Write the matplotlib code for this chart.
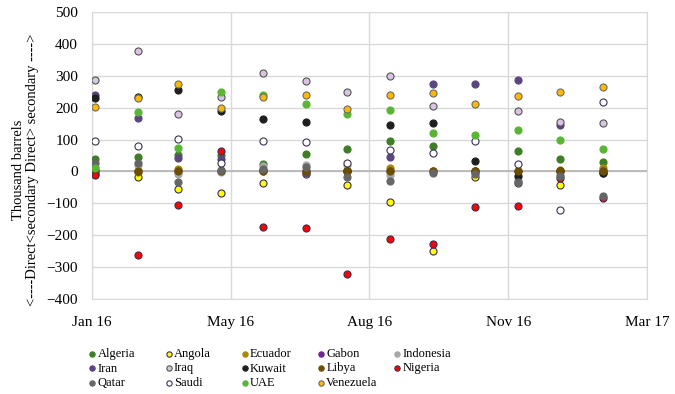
import matplotlib
matplotlib.use('Agg')
import matplotlib.pyplot as plt
import pandas as pd
import datetime as dt

plt.rcParams['font.family'] = ['Liberation Serif', 'DejaVu Serif']

# monthly points, Jan 2016 - Jan 2017
months = pd.date_range('2016-01-01', periods=13, freq='MS')

algeria   = [40, 46, 53, 51, 24, 56, 70, 94, 80, 2, 63, 38, 29]
angola    = [-8, -18, -54, -67, -37, -7, -41, -97, -248, -16, -36, -44, -4]
ecuador   = [5, -2, 9, 2, 5, -5, 6, 10, 1, 1, 1, 5, 10]
gabon     = [2, 0, 0, 0, 0, 0, 0, 0, 0, 0, 0, 0, 0]
indonesia = [15, 20, -7, -2, 16, 21, 19, -10, 0, -5, -28, -10, 0]
iran      = [241, 167, 43, 40, 5, -5, 0, 44, 274, 274, 287, 145, 0]
iraq      = [287, 377, 179, 235, 310, 283, 250, 300, 206, 0, 190, 156, 153]
kuwait    = [231, 232, 256, 188, 164, 156, 0, 146, 153, 33, -15, 0, -4]
libya     = [0, 0, 0, 0, 0, 0, 0, 0, 0, 0, 0, 0, 0]
nigeria   = [-10, -261, -104, 63, -173, -178, -321, -211, -227, -111, -108, -20, -83]
qatar     = [26, 26, -34, 6, 9, 14, -16, -31, -5, -9, -33, -13, -78]
saudi     = [94, 79, 103, 26, 97, 91, 26, 66, 59, 96, 23, -120, 217]
uae       = [12, 187, 73, 249, 241, 213, 179, 193, 120, 114, 130, 99, 70]
venezuela = [203, 230, 274, 200, 233, 240, 196, 240, 246, 213, 237, 250, 264]

tick_labels = ['Jan 16', 'May 16', 'Aug 16', 'Nov 16', 'Mar 17']

# name, values, face, edge
series = [
    ('Algeria', algeria, '#3e7e27', '#3e7e27'),
    ('Angola', angola, '#ffff00', '#3b2f55'),
    ('Ecuador', ecuador, '#a88a00', '#a88a00'),
    ('Gabon', gabon, '#70209a', '#70209a'),
    ('Indonesia', indonesia, '#a6a6a6', '#a6a6a6'),
    ('Iran', iran, '#5b4680', '#5b4680'),
    ('Iraq', iraq, '#dcc2e8', '#4d5a44'),
    ('Kuwait', kuwait, '#1f1f1f', '#1f1f1f'),
    ('Libya', libya, '#6b5000', '#6b5000'),
    ('Nigeria', nigeria, '#ff0000', '#3b2f55'),
    ('Qatar', qatar, '#666666', '#666666'),
    ('Saudi', saudi, '#ffffff', '#3b2f55'),
    ('UAE', uae, '#5bb535', '#5bb535'),
    ('Venezuela', venezuela, '#ffb800', '#6b6b6b'),
]

fig = plt.figure(figsize=(6.75, 3.94), dpi=100)
ax = fig.add_axes([92/675, 1-299/394, 555/675, 287/394])

handles = {}
for i, (name, vals, fc, ec) in enumerate(series):
    h = ax.scatter(months, vals, s=26, c=fc, edgecolors=ec, linewidths=0.8,
                   label=name, zorder=3+i)
    handles[name] = h

x0 = dt.datetime(2015, 12, 30)
ticks = [x0 + dt.timedelta(days=100*k) for k in range(5)]
ax.set_xlim(ticks[0], ticks[-1])
ax.set_xticks(ticks)
ax.set_xticklabels(tick_labels, fontsize=11)
ax.set_ylim(-400, 500)
ax.set_yticks(range(-400, 501, 100))
ax.tick_params(axis='y', labelsize=11, length=0, pad=10)
ax.tick_params(axis='x', length=0, pad=12)

ax.grid(True, color='#d9d9d9', linewidth=1)
ax.set_axisbelow(True)
ax.axhline(0, color='#b3b3b3', linewidth=1.2, zorder=2)
for s in ax.spines.values():
    s.set_color('#d9d9d9')

ax.set_ylabel('Thousand barrels\n<----Direct<secondary Direct> secondary ---->',
              fontsize=10.5, linespacing=1.1)
ax.yaxis.set_label_coords(-0.095, 0.45)

# legend: five fixed-pitch columns, read row-wise like the original
columns = [['Algeria', 'Iran', 'Qatar'], ['Angola', 'Iraq', 'Saudi'],
           ['Ecuador', 'Kuwait', 'UAE'], ['Gabon', 'Libya', 'Venezuela'],
           ['Indonesia', 'Nigeria']]
for k, names in enumerate(columns):
    leg = fig.legend([handles[n] for n in names], names, loc='upper left',
                     bbox_to_anchor=((89 + 76.2*k)/675, 1-348/394),
                     frameon=False, fontsize=9, handletextpad=0.15,
                     labelspacing=0.2, handlelength=0.55, markerscale=0.75,
                     borderpad=0, borderaxespad=0)

fig.savefig('out.png', dpi=100)
